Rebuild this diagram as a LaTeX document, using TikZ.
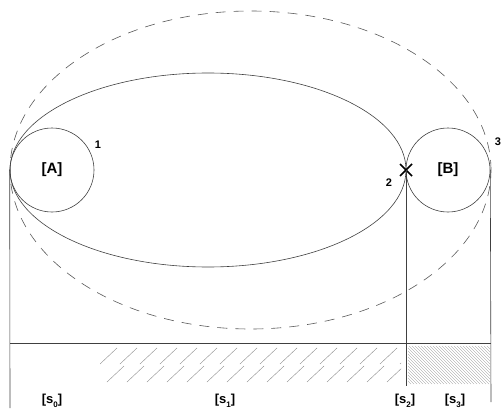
\documentclass[tikz,border=0pt]{standalone}
\usepackage{fontspec}
\setmainfont{Liberation Sans}
\usetikzlibrary{calc}
\begin{document}
\begin{tikzpicture}[x=1pt,y=-1pt,
  ln/.style={draw=black!75,line width=0.6pt},
  dsh/.style={draw=black!65,line width=0.6pt,dash pattern=on 10pt off 8pt},
  circ/.style={circle,draw=black!75,line width=0.6pt,minimum size=84pt,inner sep=0pt,font=\bfseries\fontsize{15}{17}\selectfont},
  num/.style={font=\bfseries\fontsize{11}{13}\selectfont,inner sep=1pt},
  slab/.style={font=\bfseries\fontsize{13}{15}\selectfont,inner sep=1pt},
  hatch/.style={draw=black!45,line width=0.4pt},
  dense/.style={draw=black!45,line width=0.35pt}]
\useasboundingbox (0,0) rectangle (501,412);
% ellipses
\draw[ln] (208,170) ellipse [x radius=198pt, y radius=97pt];
\draw[dsh] (250.5,170) ellipse [x radius=240.5pt, y radius=159pt];
% circles
\node[circ] (A) at (52,170) {[A]};
\node[circ] (B) at (448,170) {[B]};
% cross
\coordinate (X) at (406,170);
\draw[line width=1.6pt] ($(X)+(-6,-6)$) -- ($(X)+(6,6)$) ($(X)+(-6,6)$) -- ($(X)+(6,-6)$);
% numbers
\node[num] (n1) at (98,145) {1};
\node[num] (n2) at (389,183) {2};
\node[num] (n3) at (498,142) {3};
% verticals
\coordinate (a0) at (10,408);
\coordinate (b0) at (406,386);
\coordinate (c0) at (491,402);
\draw[ln] (A.west) -- (a0);
\draw[ln] (X) -- (b0);
\draw[ln] (B.east) -- (c0);
% horizontal
\coordinate (h0) at (10,343);
\coordinate (h1) at (491,343);
\draw[ln] (h0) -- (h1);
% sparse hatch (two staggered rows)
\begin{scope}
\clip (100,346) rectangle (401,384);
\foreach \i in {0,...,15} {
  \draw[hatch] (100+20*\i,364) -- (117+20*\i,348);
  \draw[hatch] (107+20*\i,382) -- (124+20*\i,366);
}
\end{scope}
% dense hatch
\begin{scope}
\clip (408,346) rectangle (490,384);
\foreach \i in {0,...,42} {
  \draw[dense] (370+3*\i,346) -- (408+3*\i,384);
}
\end{scope}
% labels
\node[slab] (s0) at (52,401) {[s\raisebox{-4pt}{\fontsize{8}{9}\selectfont\bfseries 0}]};
\node[slab] (s1) at (225,401) {[s\raisebox{-4pt}{\fontsize{8}{9}\selectfont\bfseries 1}]};
\node[slab] (s2) at (405,401) {[s\raisebox{-4pt}{\fontsize{8}{9}\selectfont\bfseries 2}]};
\node[slab] (s3) at (455,401) {[s\raisebox{-4pt}{\fontsize{8}{9}\selectfont\bfseries 3}]};
\end{tikzpicture}
\end{document}
